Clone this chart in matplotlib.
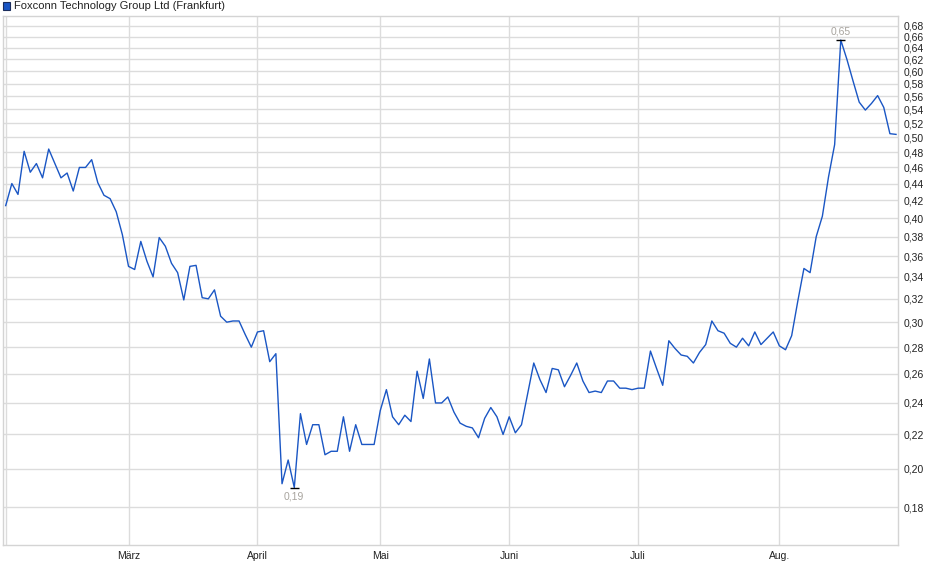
import matplotlib
matplotlib.use('Agg')
import matplotlib.pyplot as plt
from matplotlib.patches import Rectangle
from matplotlib.ticker import FixedLocator, NullLocator
import numpy as np

plt.rcParams['font.family'] = ['Liberation Sans', 'DejaVu Sans']

title = 'Foxconn Technology Group Ltd (Frankfurt)'

# Schlusskurse (EUR), ein Wert pro Handelstag, nach Monaten
feb = [0.414, 0.440, 0.427, 0.481, 0.454, 0.465, 0.447, 0.484, 0.465, 0.447,
       0.453, 0.431, 0.460, 0.460, 0.470, 0.441, 0.426, 0.422, 0.407, 0.382]
maerz = [0.350, 0.347, 0.375, 0.355, 0.340, 0.379, 0.370, 0.353, 0.344, 0.319,
         0.350, 0.351, 0.321, 0.320, 0.328, 0.305, 0.300, 0.301, 0.301, 0.290,
         0.280]
april = [0.292, 0.293, 0.269, 0.275, 0.192, 0.205, 0.190, 0.233, 0.214, 0.226,
         0.226, 0.208, 0.210, 0.210, 0.231, 0.210, 0.226, 0.214, 0.214, 0.214]
mai = [0.235, 0.249, 0.231, 0.226, 0.232, 0.228, 0.262, 0.243, 0.271, 0.240,
       0.240, 0.244, 0.234, 0.227, 0.225, 0.224, 0.218, 0.230, 0.237, 0.231,
       0.220]
juni = [0.231, 0.221, 0.226, 0.246, 0.268, 0.256, 0.247, 0.264, 0.263, 0.251,
        0.259, 0.268, 0.255, 0.247, 0.248, 0.247, 0.255, 0.255, 0.250, 0.250,
        0.249]
juli = [0.250, 0.250, 0.277, 0.264, 0.252, 0.285, 0.279, 0.274, 0.273, 0.268,
        0.276, 0.282, 0.301, 0.293, 0.291, 0.283, 0.280, 0.287, 0.281, 0.292,
        0.282, 0.287, 0.292]
aug = [0.281, 0.278, 0.289, 0.318, 0.348, 0.344, 0.380, 0.402, 0.448, 0.490,
       0.654, 0.620, 0.584, 0.551, 0.539, 0.549, 0.561, 0.543, 0.505, 0.504]

months = [feb, maerz, april, mai, juni, juli, aug]
month_labels = ['', 'März', 'April', 'Mai', 'Juni', 'Juli', 'Aug.']
ytick_values = [0.18, 0.20, 0.22, 0.24, 0.26, 0.28, 0.30, 0.32, 0.34, 0.36,
                0.38, 0.40, 0.42, 0.44, 0.46, 0.48, 0.50, 0.52, 0.54, 0.56,
                0.58, 0.60, 0.62, 0.64, 0.66, 0.68]

kurs = np.concatenate(months)
x = np.arange(len(kurs))
month_start = np.concatenate([[0], np.cumsum([len(m) for m in months])[:-1]])

line_color = '#1a56c4'
grid_color = '#dcdcdc'


def de_fmt(v):
    return f'{v:.2f}'.replace('.', ',')


fig = plt.figure(figsize=(9.4, 5.79), dpi=100)
W, H = 940, 579
ax = fig.add_axes([2.7 / W, 1 - 545 / H, (898.5 - 2.7) / W, (545 - 16) / H])

ax.plot(x, kurs, color=line_color, lw=1.0, zorder=3)

ax.set_yscale('log')
ax.set_ylim(0.1621, 0.699)
ax.set_xlim(-0.49, 145.4)

ax.yaxis.set_major_locator(FixedLocator(ytick_values))
ax.yaxis.set_minor_locator(NullLocator())
ax.set_yticklabels([de_fmt(v) for v in ytick_values])
ax.yaxis.tick_right()
ax.tick_params(axis='y', length=0, pad=3.5, labelsize=7.5, colors='#222222')

ax.set_xticks(month_start)
ax.set_xticklabels(month_labels)
ax.xaxis.set_minor_locator(NullLocator())
ax.tick_params(axis='x', length=0, pad=4, labelsize=7.5, colors='#222222')

ax.set_axisbelow(True)
ax.grid(True, color=grid_color, lw=1.0)
for sp in ax.spines.values():
    sp.set_color('#d4d4d4')
    sp.set_linewidth(1.0)

# Hoch / Tief markieren
i_max = int(np.argmax(kurs))
i_min = int(np.argmin(kurs))
for i, dy, va in [(i_max, 2.5, 'bottom'), (i_min, -3.0, 'top')]:
    ax.hlines(kurs[i], i - 0.7, i + 0.7, colors='black', lw=1.0, zorder=4)
    ax.annotate(de_fmt(kurs[i]), (i, kurs[i]), xytext=(0, dy),
                textcoords='offset points', ha='center', va=va,
                fontsize=7.5, color='#a8a49e')

# Titel mit Farbkästchen
fig.patches.append(Rectangle((3 / W, 1 - 9.5 / H), 7 / W, 7 / H,
                             transform=fig.transFigure, facecolor=line_color,
                             edgecolor='#1b2d5c', lw=0.8))
fig.text(14 / W, 1 - 6 / H, title, ha='left', va='center', fontsize=8,
         color='#222222')

fig.savefig('out.png', dpi=100)
